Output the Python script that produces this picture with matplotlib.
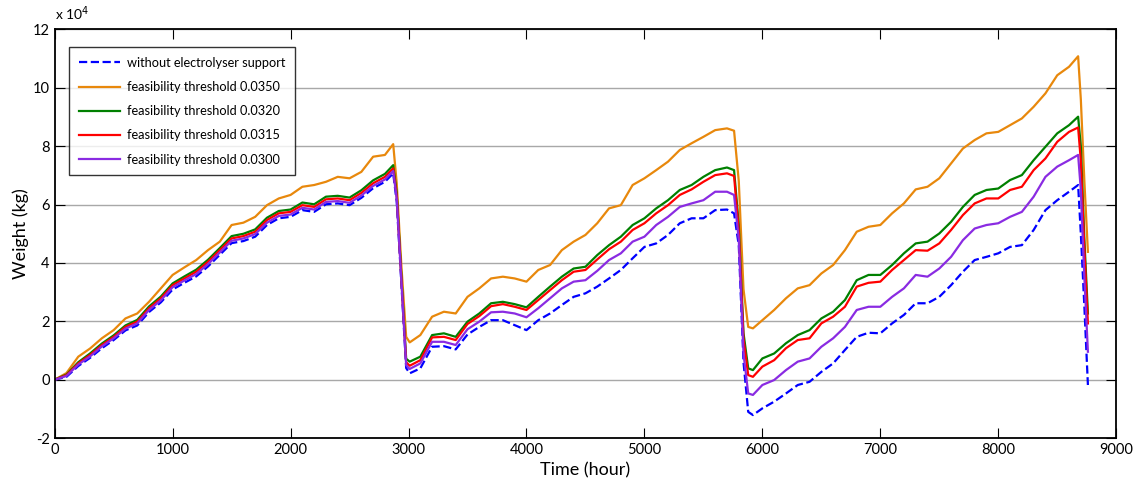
import numpy as np
import matplotlib.pyplot as plt

plt.rcParams['font.family'] = ['Lato', 'DejaVu Sans']
plt.rcParams['axes.unicode_minus'] = False

# hours of the year
hours = [0, 100, 200, 300, 400, 500, 600, 700, 800, 900, 1000, 1100, 1200, 1300, 1400,
         1500, 1600, 1700, 1800, 1900, 2000, 2100, 2200, 2300, 2400, 2500, 2600, 2700, 2800,
         2870, 2900, 2940, 2980, 3010,
         3100, 3200, 3300, 3400, 3500, 3600, 3700, 3800, 3900, 4000, 4100, 4200, 4300, 4400,
         4500, 4600, 4700, 4800, 4900, 5000, 5100, 5200, 5300, 5400, 5500, 5600, 5700,
         5760, 5800, 5840, 5880, 5920,
         6000, 6100, 6200, 6300, 6400, 6500, 6600, 6700, 6800, 6900, 7000, 7100, 7200, 7300,
         7400, 7500, 7600, 7700, 7800, 7900, 8000, 8100, 8200, 8300, 8400, 8500, 8600,
         8677, 8700, 8730, 8760]

# stored hydrogen weight, x 10^4 kg
w_base = [0.00, 0.10, 0.47, 0.75, 1.08, 1.36, 1.69, 1.86, 2.32, 2.65, 3.09, 3.32, 3.54, 3.88, 4.28,
          4.68, 4.75, 4.90, 5.30, 5.53, 5.58, 5.81, 5.75, 6.01, 6.04, 5.98, 6.23, 6.56, 6.78,
          7.07, 6.10, 3.25, 0.40, 0.22,
          0.39, 1.13, 1.15, 1.04, 1.55, 1.81, 2.04, 2.04, 1.87, 1.70, 2.04, 2.27, 2.56, 2.84,
          2.96, 3.19, 3.47, 3.76, 4.16, 4.55, 4.67, 4.96, 5.36, 5.53, 5.53, 5.81, 5.83,
          5.70, 4.60, 0.60, -1.10, -1.21,
          -0.98, -0.75, -0.47, -0.18, -0.07, 0.27, 0.56, 1.02, 1.47, 1.61, 1.59, 1.93, 2.22, 2.62,
          2.62, 2.84, 3.24, 3.70, 4.10, 4.21, 4.33, 4.55, 4.61, 5.13, 5.81, 6.15, 6.44,
          6.67, 5.00, 2.50, -0.18]

w_0350 = [0.00, 0.23, 0.79, 1.07, 1.42, 1.70, 2.10, 2.27, 2.67, 3.13, 3.59, 3.85, 4.10, 4.44, 4.73,
          5.30, 5.38, 5.58, 5.98, 6.21, 6.33, 6.61, 6.67, 6.78, 6.95, 6.90, 7.12, 7.64, 7.70,
          8.07, 6.73, 3.87, 1.47, 1.28,
          1.53, 2.16, 2.33, 2.27, 2.84, 3.13, 3.47, 3.53, 3.47, 3.36, 3.76, 3.93, 4.44, 4.73,
          4.96, 5.36, 5.87, 5.98, 6.67, 6.90, 7.18, 7.47, 7.87, 8.10, 8.32, 8.55, 8.61,
          8.53, 6.80, 3.10, 1.81, 1.76,
          2.04, 2.39, 2.79, 3.13, 3.24, 3.64, 3.93, 4.44, 5.07, 5.24, 5.30, 5.70, 6.04, 6.52,
          6.61, 6.90, 7.41, 7.92, 8.21, 8.44, 8.49, 8.72, 8.95, 9.35, 9.81, 10.43, 10.72,
          11.08, 9.60, 6.80, 4.38]

w_0320 = [0.00, 0.18, 0.60, 0.90, 1.24, 1.52, 1.86, 2.05, 2.51, 2.85, 3.30, 3.54, 3.77, 4.11, 4.51,
          4.92, 5.00, 5.15, 5.55, 5.78, 5.83, 6.07, 6.01, 6.27, 6.30, 6.24, 6.49, 6.83, 7.05,
          7.35, 6.40, 3.50, 0.72, 0.62,
          0.79, 1.53, 1.59, 1.47, 1.99, 2.27, 2.62, 2.67, 2.59, 2.48, 2.84, 3.19, 3.53, 3.81,
          3.87, 4.27, 4.61, 4.90, 5.30, 5.53, 5.87, 6.15, 6.50, 6.67, 6.95, 7.18, 7.27,
          7.18, 5.30, 1.60, 0.39, 0.33,
          0.73, 0.90, 1.25, 1.53, 1.70, 2.10, 2.33, 2.73, 3.41, 3.59, 3.59, 3.93, 4.33, 4.67,
          4.73, 5.01, 5.41, 5.92, 6.33, 6.50, 6.55, 6.84, 7.01, 7.52, 7.98, 8.44, 8.72,
          9.01, 8.00, 4.80, 2.27]

w_0315 = [0.00, 0.16, 0.56, 0.85, 1.19, 1.47, 1.81, 1.99, 2.45, 2.79, 3.24, 3.47, 3.70, 4.04, 4.44,
          4.84, 4.92, 5.07, 5.47, 5.70, 5.75, 5.98, 5.92, 6.18, 6.21, 6.15, 6.40, 6.73, 6.95,
          7.24, 6.30, 3.41, 0.60, 0.48,
          0.67, 1.45, 1.47, 1.36, 1.91, 2.18, 2.52, 2.59, 2.50, 2.39, 2.73, 3.07, 3.41, 3.70,
          3.76, 4.12, 4.47, 4.73, 5.13, 5.36, 5.70, 5.98, 6.33, 6.52, 6.78, 7.01, 7.07,
          6.98, 5.10, 1.40, 0.16, 0.10,
          0.45, 0.67, 1.08, 1.36, 1.42, 1.93, 2.16, 2.50, 3.19, 3.32, 3.36, 3.76, 4.10, 4.44,
          4.42, 4.67, 5.13, 5.64, 6.04, 6.21, 6.21, 6.50, 6.61, 7.18, 7.58, 8.15, 8.49,
          8.64, 7.50, 4.50, 1.93]

w_0300 = [0.00, 0.13, 0.52, 0.80, 1.14, 1.42, 1.75, 1.93, 2.39, 2.72, 3.17, 3.40, 3.62, 3.96, 4.36,
          4.76, 4.84, 4.99, 5.38, 5.61, 5.66, 5.89, 5.83, 6.09, 6.12, 6.06, 6.31, 6.64, 6.86,
          7.15, 6.20, 3.35, 0.50, 0.37,
          0.56, 1.30, 1.30, 1.19, 1.73, 1.99, 2.31, 2.33, 2.27, 2.14, 2.45, 2.79, 3.13, 3.36,
          3.41, 3.73, 4.10, 4.33, 4.73, 4.90, 5.30, 5.58, 5.92, 6.04, 6.15, 6.44, 6.44,
          6.33, 4.80, 0.90, -0.47, -0.52,
          -0.18, -0.01, 0.33, 0.62, 0.73, 1.13, 1.42, 1.81, 2.39, 2.50, 2.50, 2.84, 3.13, 3.59,
          3.53, 3.81, 4.21, 4.78, 5.18, 5.30, 5.36, 5.58, 5.75, 6.27, 6.95, 7.30, 7.52,
          7.70, 6.50, 3.50, 0.96]

fig = plt.figure(figsize=(11.39, 4.82), dpi=100)
ax = fig.add_axes([0.048, 0.091, 0.932, 0.848])

ax.plot(hours, w_base, '--', color='#0000ff', lw=1.6, label='without electrolyser support')
ax.plot(hours, w_0350, color='#e8880c', lw=1.6, label='feasibility threshold 0.0350')
ax.plot(hours, w_0320, color='#008000', lw=1.6, label='feasibility threshold 0.0320')
ax.plot(hours, w_0315, color='#ff0000', lw=1.6, label='feasibility threshold 0.0315')
ax.plot(hours, w_0300, color='#8a2be2', lw=1.6, label='feasibility threshold 0.0300')

ax.set_xlim(0, 9000)
ax.set_ylim(-2, 12)
ax.set_xticks(np.arange(0, 9001, 1000))
ax.set_yticks(np.arange(-2, 13, 2))
ax.yaxis.grid(True, color='#a8a8a8', lw=1)
ax.set_axisbelow(True)
ax.tick_params(direction='in', top=True, right=True, length=7, labelsize=10.5)
for s in ax.spines.values():
    s.set_linewidth(1.3)

ax.text(0.0, 1.015, r'x 10$^4$', transform=ax.transAxes, fontsize=10, ha='left', va='bottom')
ax.set_xlabel('Time (hour)', fontsize=13, labelpad=4)
ax.set_ylabel('Weight (kg)', fontsize=13, labelpad=3)

leg = ax.legend(loc='upper left', bbox_to_anchor=(0.0137, 0.956), borderaxespad=0,
                fontsize=9.2, frameon=True, fancybox=False, edgecolor='black',
                handlelength=3.2, handletextpad=0.6, borderpad=0.75, labelspacing=0.95)
leg.get_frame().set_linewidth(1.0)

plt.savefig('out.png', dpi=100)
